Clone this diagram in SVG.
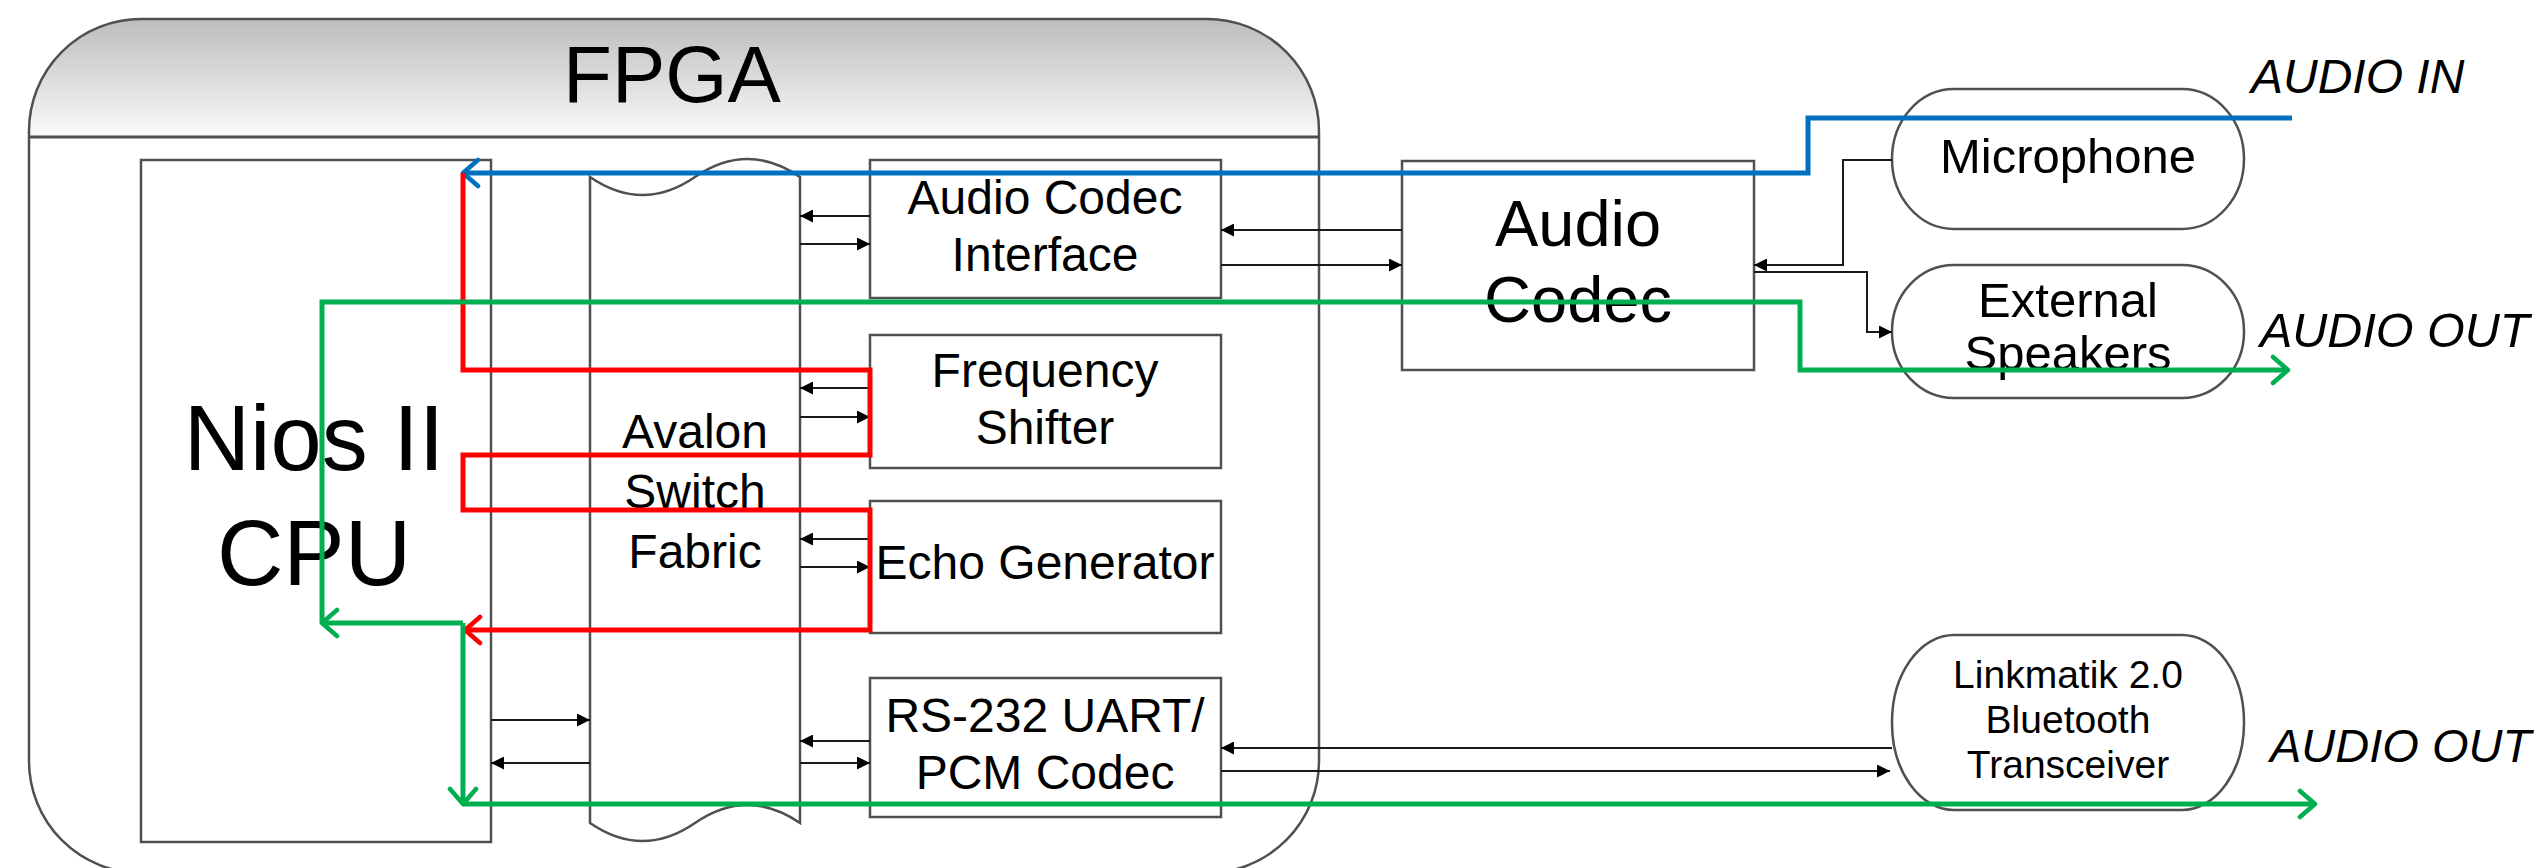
<svg xmlns="http://www.w3.org/2000/svg" width="2535" height="868" viewBox="0 0 2535 868">
<defs>
<linearGradient id="hdr" gradientUnits="userSpaceOnUse" x1="0" y1="19" x2="0" y2="137">
<stop offset="0" stop-color="#bdbdbd"/>
<stop offset="1" stop-color="#fafafa"/>
</linearGradient>
<clipPath id="hdrClip"><rect x="0" y="0" width="1400" height="137"/></clipPath>
<marker id="blk" viewBox="0 0 13 13" refX="13" refY="6.5" markerWidth="13" markerHeight="13" markerUnits="userSpaceOnUse" orient="auto">
<path d="M0,0 L13,6.5 L0,13 z" fill="#000"/>
</marker>
<marker id="aBlue" viewBox="-3 -3 22 32" refX="15" refY="13" markerWidth="22" markerHeight="32" markerUnits="userSpaceOnUse" orient="auto">
<path d="M0,0 L15,13 L0,26" fill="none" stroke="#0070c0" stroke-width="4.5" stroke-linecap="round" stroke-linejoin="round"/>
</marker>
<marker id="aRed" viewBox="-3 -3 22 32" refX="15" refY="13" markerWidth="22" markerHeight="32" markerUnits="userSpaceOnUse" orient="auto">
<path d="M0,0 L15,13 L0,26" fill="none" stroke="#ff0000" stroke-width="4.5" stroke-linecap="round" stroke-linejoin="round"/>
</marker>
<marker id="aGreen" viewBox="-3 -3 22 32" refX="15" refY="13" markerWidth="22" markerHeight="32" markerUnits="userSpaceOnUse" orient="auto">
<path d="M0,0 L15,13 L0,26" fill="none" stroke="#00b050" stroke-width="4.5" stroke-linecap="round" stroke-linejoin="round"/>
</marker>
</defs>
<style>
.box{fill:#fff;stroke:#505050;stroke-width:2.5}
.t{font-family:"Liberation Sans",Arial,sans-serif;fill:#000;text-anchor:middle}
.ti{font-family:"Liberation Sans",Arial,sans-serif;font-style:italic;fill:#000}
.ca{fill:none;stroke:#1a1a1a;stroke-width:2;marker-end:url(#blk)}
.blue{fill:none;stroke:#0070c0;stroke-width:5;stroke-linejoin:miter}
.red{fill:none;stroke:#ff0000;stroke-width:5;stroke-linejoin:miter}
.green{fill:none;stroke:#00b050;stroke-width:5;stroke-linejoin:miter}
</style>
<rect x="0" y="0" width="2535" height="868" fill="#fff"/>

<g id="fpga">
<rect x="29" y="19" width="1290" height="854" rx="112" ry="112" fill="url(#hdr)" clip-path="url(#hdrClip)"/>
<rect x="29" y="19" width="1290" height="854" rx="112" ry="112" fill="none" stroke="#505050" stroke-width="2.5"/>
<line x1="29" y1="137" x2="1319" y2="137" stroke="#505050" stroke-width="3"/>
<text class="t" x="672" y="102" font-size="80">FPGA</text>
</g>

<g id="nios">
<rect class="box" x="141" y="160" width="350" height="682"/>
<text class="t" x="314" y="470" font-size="92">Nios II</text>
<text class="t" x="314" y="585" font-size="92">CPU</text>
</g>

<g id="avalon">
<path class="box" d="M590,177 C625,201 660,201 695,177 C730,153 765,153 800,177 L800,823 C765,799 730,799 695,823 C660,847 625,847 590,823 Z"/>
<text class="t" x="695" y="448" font-size="48">Avalon</text>
<text class="t" x="695" y="508" font-size="48">Switch</text>
<text class="t" x="695" y="568" font-size="48">Fabric</text>
</g>

<g id="aci">
<rect class="box" x="870" y="160" width="351" height="138"/>
<text class="t" x="1045" y="214" font-size="48">Audio Codec</text>
<text class="t" x="1045" y="271" font-size="48">Interface</text>
</g>

<g id="freq">
<rect class="box" x="870" y="335" width="351" height="133"/>
<text class="t" x="1045" y="387" font-size="48">Frequency</text>
<text class="t" x="1045" y="444" font-size="48">Shifter</text>
</g>

<g id="echo">
<rect class="box" x="870" y="501" width="351" height="132"/>
<text class="t" x="1045" y="579" font-size="48">Echo Generator</text>
</g>

<g id="uart">
<rect class="box" x="870" y="678" width="351" height="139"/>
<text class="t" x="1045" y="732" font-size="48">RS-232 UART/</text>
<text class="t" x="1045" y="789" font-size="48">PCM Codec</text>
</g>

<g id="codec">
<rect class="box" x="1402" y="161" width="352" height="209"/>
<text class="t" x="1578" y="246" font-size="65">Audio</text>
<text class="t" x="1578" y="322" font-size="65">Codec</text>
</g>

<g id="mic">
<rect class="box" x="1892" y="89" width="352" height="140" rx="62" ry="70"/>
<text class="t" x="2068" y="173" font-size="49">Microphone</text>
</g>

<g id="spk">
<rect class="box" x="1892" y="265" width="352" height="133" rx="62" ry="66"/>
<text class="t" x="2068" y="317" font-size="49">External</text>
<text class="t" x="2068" y="370" font-size="49">Speakers</text>
</g>

<g id="bt">
<rect class="box" x="1892" y="635" width="352" height="175" rx="62" ry="87"/>
<text class="t" x="2068" y="688" font-size="39">Linkmatik 2.0</text>
<text class="t" x="2068" y="733" font-size="39">Bluetooth</text>
<text class="t" x="2068" y="778" font-size="39">Transceiver</text>
</g>

<g id="labels">
<text class="ti" x="2251" y="93" font-size="48">AUDIO IN</text>
<text class="ti" x="2260" y="347" font-size="48.5">AUDIO OUT</text>
<text class="ti" x="2270" y="762" font-size="47">AUDIO OUT</text>
</g>

<g id="connectors">
<path class="ca" d="M491,720 L590,720"/>
<path class="ca" d="M590,763 L491,763"/>
<path class="ca" d="M870,216 L800,216"/>
<path class="ca" d="M800,244 L870,244"/>
<path class="ca" d="M870,388 L800,388"/>
<path class="ca" d="M800,417 L870,417"/>
<path class="ca" d="M870,539 L800,539"/>
<path class="ca" d="M800,567 L870,567"/>
<path class="ca" d="M870,741 L800,741"/>
<path class="ca" d="M800,763 L870,763"/>
<path class="ca" d="M1402,230 L1221,230"/>
<path class="ca" d="M1221,265 L1402,265"/>
<path class="ca" d="M1892,160 L1843,160 L1843,265 L1754,265"/>
<path class="ca" d="M1754,272 L1867,272 L1867,332 L1892,332"/>
<path class="ca" d="M1892,748 L1221,748"/>
<path class="ca" d="M1221,771 L1890,771"/>

<path class="blue" d="M2292,118 L1808,118 L1808,173 L463,173" marker-end="url(#aBlue)"/>
<path class="red" d="M463,173 L463,370 L870,370 L870,455 L463,455 L463,510 L870,510 L870,630 L465,630" marker-end="url(#aRed)"/>
<path class="green" d="M463,623 L322,623" marker-end="url(#aGreen)"/>
<path class="green" d="M322,623 L322,302 L1800,302 L1800,370 L2288,370" marker-end="url(#aGreen)"/>
<path class="green" d="M463,623 L463,804" marker-end="url(#aGreen)"/>
<path class="green" d="M463,804 L2315,804" marker-end="url(#aGreen)"/>
</g>
</svg>
